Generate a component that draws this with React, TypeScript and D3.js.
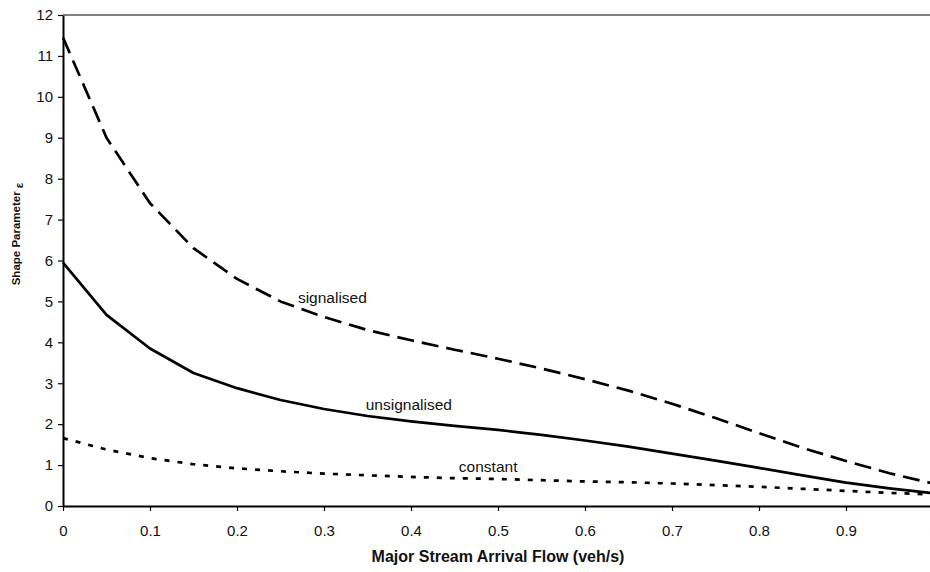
import React, { useEffect, useRef } from "react";
import * as d3 from "d3";

// flow values along the x axis (veh/s)
const flows = [0, 0.05, 0.1, 0.15, 0.2, 0.25, 0.3, 0.35, 0.4, 0.45, 0.5, 0.55, 0.6, 0.65, 0.7, 0.75, 0.8, 0.85, 0.9, 0.95, 1.0];

const signalised = [11.45, 9.0, 7.4, 6.3, 5.55, 5.0, 4.62, 4.3, 4.05, 3.82, 3.6, 3.36, 3.1, 2.82, 2.5, 2.15, 1.78, 1.42, 1.1, 0.8, 0.55];
const unsignalised = [5.95, 4.67, 3.85, 3.25, 2.88, 2.59, 2.37, 2.2, 2.07, 1.96, 1.86, 1.74, 1.6, 1.45, 1.28, 1.11, 0.93, 0.75, 0.57, 0.43, 0.31];
const constant = [1.66, 1.38, 1.17, 1.02, 0.92, 0.85, 0.79, 0.75, 0.71, 0.68, 0.66, 0.63, 0.6, 0.58, 0.55, 0.51, 0.47, 0.42, 0.37, 0.32, 0.28];

const xTicks = [0, 0.1, 0.2, 0.3, 0.4, 0.5, 0.6, 0.7, 0.8, 0.9, 1];
const yTicks = [0, 1, 2, 3, 4, 5, 6, 7, 8, 9, 10, 11, 12];

const series = [
  { name: "signalised", values: signalised, dash: "17,8", label: { x: 0.27, y: 4.96 } },
  { name: "unsignalised", values: unsignalised, dash: null, label: { x: 0.348, y: 2.35 } },
  { name: "constant", values: constant, dash: "5,8", label: { x: 0.455, y: 0.83 } },
];

export default function App() {
  const ref = useRef<SVGSVGElement>(null);

  useEffect(() => {
    const svg = d3.select(ref.current);
    svg.selectAll("*").remove();

    const font = "'Liberation Sans', Arial, sans-serif";
    const x = d3.scaleLinear().domain([0, 1]).range([63, 933]);
    const y = d3.scaleLinear().domain([0, 12]).range([506, 15]);

    // top frame line
    svg.append("line")
      .attr("x1", x(0)).attr("x2", x(1))
      .attr("y1", y(12)).attr("y2", y(12))
      .attr("stroke", "#808080").attr("stroke-width", 2);

    const xAxis = svg.append("g")
      .attr("transform", `translate(0,${y(0)})`)
      .call(d3.axisBottom(x).tickValues(xTicks).tickSize(5).tickSizeOuter(0)
        .tickFormat((d: any) => String(d)));
    const yAxis = svg.append("g")
      .attr("transform", `translate(${x(0)},0)`)
      .call(d3.axisLeft(y).tickValues(yTicks).tickSize(5).tickSizeOuter(0));

    [xAxis, yAxis].forEach(g => {
      g.select(".domain").attr("stroke", "#000").attr("stroke-width", 2);
      g.selectAll(".tick line").attr("stroke", "#000").attr("stroke-width", 1.2);
      g.selectAll(".tick text").attr("fill", "#111").style("font-family", font).style("font-size", "15px");
    });
    xAxis.selectAll(".tick text").attr("dy", "0").attr("y", 30);
    yAxis.selectAll(".tick text").attr("x", -10);

    const line = d3.line<number>()
      .x((d, i) => x(flows[i]))
      .y(d => y(d));

    series.forEach(s => {
      svg.append("path")
        .datum(s.values)
        .attr("d", line)
        .attr("fill", "none")
        .attr("stroke", "#000")
        .attr("stroke-width", 2.7)
        .attr("stroke-dasharray", s.dash)
        .attr("stroke-linejoin", "round");

      svg.append("text")
        .attr("x", x(s.label.x))
        .attr("y", y(s.label.y))
        .style("font-family", font)
        .style("font-size", "15.5px")
        .attr("fill", "#111")
        .text(s.name);
    });

    // axis titles
    svg.append("text")
      .attr("x", (x(0) + x(1)) / 2)
      .attr("y", 562)
      .attr("text-anchor", "middle")
      .style("font-family", font)
      .style("font-size", "16px")
      .style("font-weight", "bold")
      .attr("fill", "#111")
      .text("Major Stream Arrival Flow (veh/s)");

    const yt = svg.append("text")
      .attr("transform", "translate(20,234) rotate(-90)")
      .attr("text-anchor", "middle")
      .style("font-family", font)
      .style("font-size", "11.5px")
      .style("font-weight", "bold")
      .attr("fill", "#111");
    yt.append("tspan").text("Shape Parameter ");
    yt.append("tspan").attr("dy", 3).text("ε");
  }, []);

  return (
    <svg ref={ref} width={930} height={572}
      style={{ position: "absolute", left: 0, top: 0, background: "#fff" }} />
  );
}
